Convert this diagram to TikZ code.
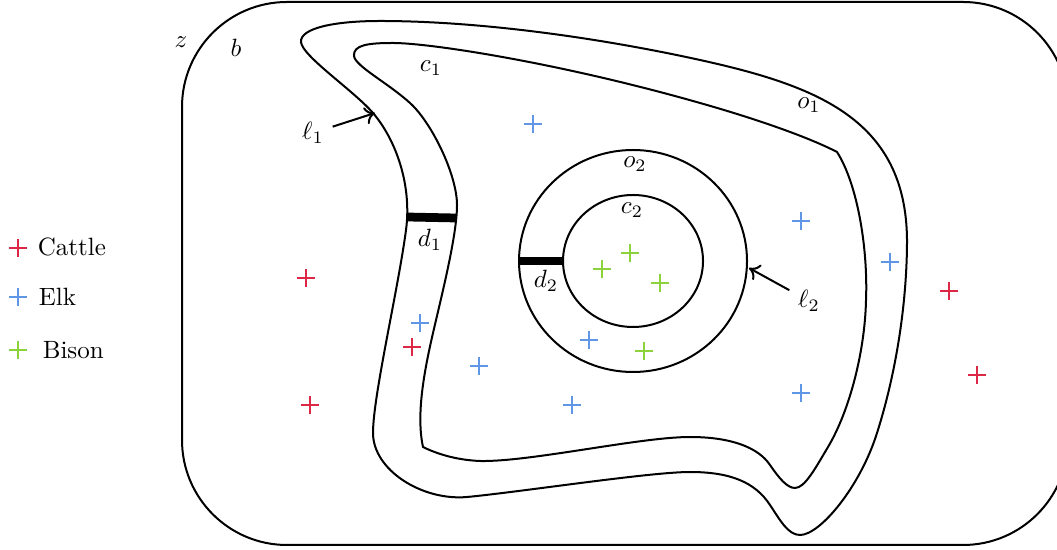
\documentclass[tikz,border=0pt]{standalone}
\usepackage{amsmath}
\usetikzlibrary{positioning, arrows.meta}
\definecolor{cattlered}{RGB}{220,40,70}
\definecolor{elkblue}{RGB}{95,150,230}
\definecolor{bisongreen}{RGB}{140,210,60}

\begin{document}
\begin{tikzpicture}[x=0.4pt, y=-0.4pt,
    boundary/.style={thick},
    gapbar/.style={line width=3.5pt},
    pointer/.style={thick, -{To[length=4pt, width=7pt]}},
    cattle/.style={cattlered, line width=0.5pt},
    elk/.style={elkblue, line width=0.5pt},
    bison/.style={bisongreen, line width=0.5pt},
    legtext/.style={anchor=west}]
    \clip (0,0) rectangle (1057,550);

    % Zone
    \draw[boundary, rounded corners=42pt] (182,2) rectangle (1068,545);
    \node (z) at (181,42) {$z$};
    \node (b) at (236,48) {$b$};

    % Outer ring
    \draw[boundary] (301,42) .. controls (300,28) and (335,21) .. (380,21)
        .. controls (480,21) and (600,38) .. (700,60)
        .. controls (818,86) and (906,120) .. (907,240)
        .. controls (907,300) and (897,370) .. (877,433)
        .. controls (860,487) and (820,535) .. (800,535)
        .. controls (788,535) and (780,520) .. (770,505)
        .. controls (755,482) and (730,472) .. (690,472)
        .. controls (650,472) and (520,492) .. (467,497)
        .. controls (422,501) and (373,470) .. (373,433)
        .. controls (373,396) and (398,290) .. (406,230)
        .. controls (412,185) and (396,140) .. (373,113)
        .. controls (353,90) and (302,56) .. (301,42) -- cycle;

    % Inner ring
    \draw[boundary] (354,56) .. controls (353,45) and (368,43) .. (393,43)
        .. controls (430,43) and (560,63) .. (700,103)
        .. controls (760,120) and (810,138) .. (837,152)
        .. controls (858,185) and (868,250) .. (866,300)
        .. controls (865,350) and (850,410) .. (828,447)
        .. controls (816,467) and (805,488) .. (795,488)
        .. controls (787,488) and (779,478) .. (770,465)
        .. controls (758,447) and (730,437) .. (690,437)
        .. controls (640,437) and (530,462) .. (480,461)
        .. controls (455,460) and (435,453) .. (423,447)
        .. controls (416,415) and (424,372) .. (433,333)
        .. controls (442,294) and (457,235) .. (457,205)
        .. controls (457,175) and (432,123) .. (410,103)
        .. controls (388,83) and (355,66) .. (354,56) -- cycle;
    \node (c1) at (431,68) {$c_1$};
    \node (o1) at (809,105) {$o_1$};

    % Island
    \draw[boundary] (633,261) ellipse [x radius=114, y radius=111];
    \draw[boundary] (633,261) ellipse [x radius=70, y radius=66];
    \node (o2) at (635,164) {$o_2$};
    \node (c2) at (632,210) {$c_2$};

    % Gaps
    \draw[gapbar] (407,217) -- (456,218);
    \draw[gapbar] (519,261) -- (564,261);
    \node (d1) at (430,240) {$d_1$};
    \node (d2) at (546,281) {$d_2$};

    % Pointers
    \coordinate (l1tip) at (375,113);
    \coordinate (l2tip) at (749,268);
    \node (l1) at (313,133) {$\ell_1$};
    \node (l2) at (809,301) {$\ell_2$};
    \draw[pointer] (l1) -- (l1tip);
    \draw[pointer] (l2) -- (l2tip);

    % Animals
    \foreach \x/\y in {18/248, 306/278, 310/405, 412/347, 949/291, 977/375}
        \draw[cattle] (\x-9,\y) -- (\x+9,\y) (\x,\y-9) -- (\x,\y+9);
    \foreach \x/\y in {18/297, 533/124, 801/221, 890/262, 420/323, 479/366,
                       589/340, 572/405, 801/393}
        \draw[elk] (\x-9,\y) -- (\x+9,\y) (\x,\y-9) -- (\x,\y+9);
    \foreach \x/\y in {18/350, 630/253, 602/269, 660/283, 644/351}
        \draw[bison] (\x-9,\y) -- (\x+9,\y) (\x,\y-9) -- (\x,\y+9);

    % Legend
    \node[legtext] (cattle) at (29,247) {Cattle};
    \node[legtext] (elk) at (30,297) {Elk};
    \node[legtext] (bison) at (34,350) {Bison};
\end{tikzpicture}
\end{document}
